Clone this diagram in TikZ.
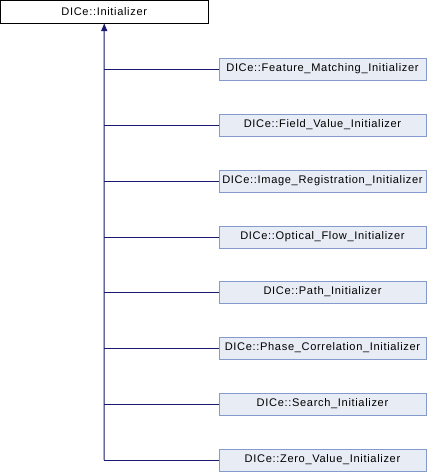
\documentclass[tikz,border=0pt]{standalone}
\usepackage{fontspec}
\setmainfont{Liberation Sans}
\newfontfamily\lbl[LetterSpace=6]{Liberation Sans}
\usetikzlibrary{arrows.meta}
\definecolor{edgeblue}{RGB}{25,25,112}
\definecolor{boxfill}{RGB}{232,236,245}
\definecolor{boxline}{RGB}{132,154,204}
\begin{document}
\begin{tikzpicture}[x=0.75pt,y=-0.75pt,
  base/.style={draw=black,fill=white,line width=0.75pt,minimum width=207.5*0.75pt,minimum height=22.5*0.75pt,inner sep=0pt,font=\lbl\fontsize{8.3pt}{10pt}\selectfont},
  child/.style={draw=boxline,fill=boxfill,line width=0.75pt,minimum width=207*0.75pt,minimum height=22*0.75pt,inner sep=0pt,font=\lbl\fontsize{8.3pt}{10pt}\selectfont},
  link/.style={draw=edgeblue,line width=0.75pt}]
\useasboundingbox (0,0) rectangle (428,472);
\node[base] (p) at (104.25,11.75) {DICe::Initializer};
\foreach \n/\y/\t in {a/69/Feature\_Matching\_Initializer,
                      b/125/Field\_Value\_Initializer,
                      c/181/Image\_Registration\_Initializer,
                      d/237/Optical\_Flow\_Initializer,
                      e/292/Path\_Initializer,
                      f/348/Phase\_Correlation\_Initializer,
                      g/404/Search\_Initializer,
                      h/460/Zero\_Value\_Initializer}{
  \node[child] (\n) at (322.5,\y) {DICe::\t};
  \coordinate (j\n) at (104,\y);
  \draw[link] (j\n) -- (\n.west);
}
\draw[link,-{Triangle[length=7.5*0.75pt,width=6*0.75pt]}] (jh) -- (p.south);
\end{tikzpicture}
\end{document}
